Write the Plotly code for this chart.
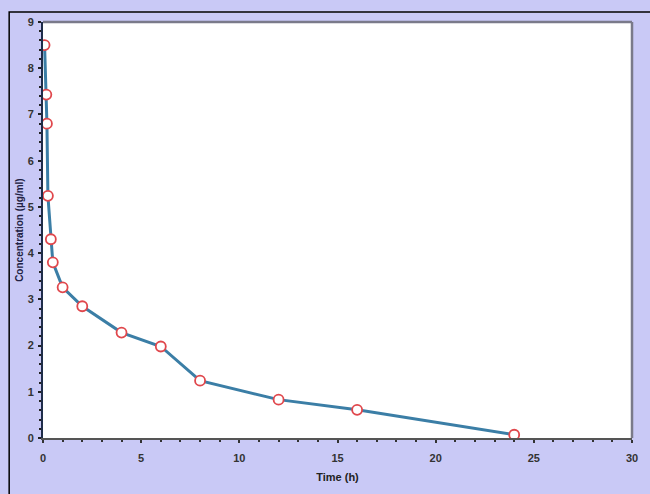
import plotly.graph_objects as go

time_h = [0.08, 0.17, 0.2, 0.25, 0.4, 0.5, 1, 2, 4, 6, 8, 12, 16, 24]
conc = [8.5, 7.43, 6.8, 5.24, 4.3, 3.8, 3.26, 2.85, 2.28, 1.98, 1.24, 0.83, 0.61, 0.07]

x_ticks = [0, 5, 10, 15, 20, 25, 30]
y_ticks = [0, 1, 2, 3, 4, 5, 6, 7, 8, 9]

fig = go.Figure()
fig.add_trace(go.Scatter(
    x=time_h, y=conc, mode="lines+markers",
    line=dict(color="#3b7ea6", width=3),
    marker=dict(size=10, color="white", line=dict(color="#e0474c", width=1.8)),
    showlegend=False,
))

tickfont = dict(family="Liberation Sans, Arial", size=11, color="#333333")
fig.update_layout(
    width=650, height=494,
    margin=dict(l=43, r=15, t=22, b=56),
    paper_bgcolor="#c9c9f6",
    plot_bgcolor="white",
    font=dict(family="Liberation Sans, Arial"),
    xaxis=dict(
        range=[0, 30], tickvals=x_ticks, ticktext=[f"<b>{v}</b>" for v in x_ticks],
        showgrid=False, zeroline=False, showline=True, linecolor="#555555", linewidth=2,
        mirror=False, ticks="outside", ticklen=3, tickwidth=1.5, tickcolor="#333333",
        minor=dict(dtick=1, ticks="outside", ticklen=2, tickcolor="#333333"),
        tickfont=tickfont, ticklabelstandoff=6,
        title=dict(text="<b>Time (h)</b>", font=dict(size=11, color="#222222"), standoff=10),
    ),
    yaxis=dict(
        range=[0, 9], tickvals=y_ticks, ticktext=[f"<b>{v}</b>" for v in y_ticks],
        showgrid=False, zeroline=False, showline=True, linecolor="#1f2d4a", linewidth=2,
        ticks="outside", ticklen=3, tickwidth=1.5, tickcolor="#222222",
        minor=dict(dtick=0.2, ticks="outside", ticklen=2, tickcolor="#222222"),
        tickfont=tickfont, ticklabelstandoff=2,
    ),
    shapes=[
        dict(type="line", xref="paper", yref="paper", x0=0, x1=1, y0=1, y1=1,
             line=dict(color="#7a7a8a", width=2.5)),
        dict(type="line", xref="paper", yref="paper", x0=1, x1=1, y0=0, y1=1,
             line=dict(color="#7a7a8a", width=2.5)),
    ],
    annotations=[
        dict(text="<b>Concentration (µg/ml)</b>", xref="paper", yref="paper",
             x=-0.041, y=0.5, xanchor="center", yanchor="middle", textangle=-90,
             showarrow=False, font=dict(size=10, color="#222244")),
    ],
)

# outer black frame
fig.add_shape(type="rect", xref="paper", yref="paper",
              x0=-34 / 592, x1=1.2, y0=-0.3, y1=1 + 10 / 416,
              line=dict(color="black", width=1.5), fillcolor="rgba(0,0,0,0)", layer="below")

fig.write_html("out.html")
